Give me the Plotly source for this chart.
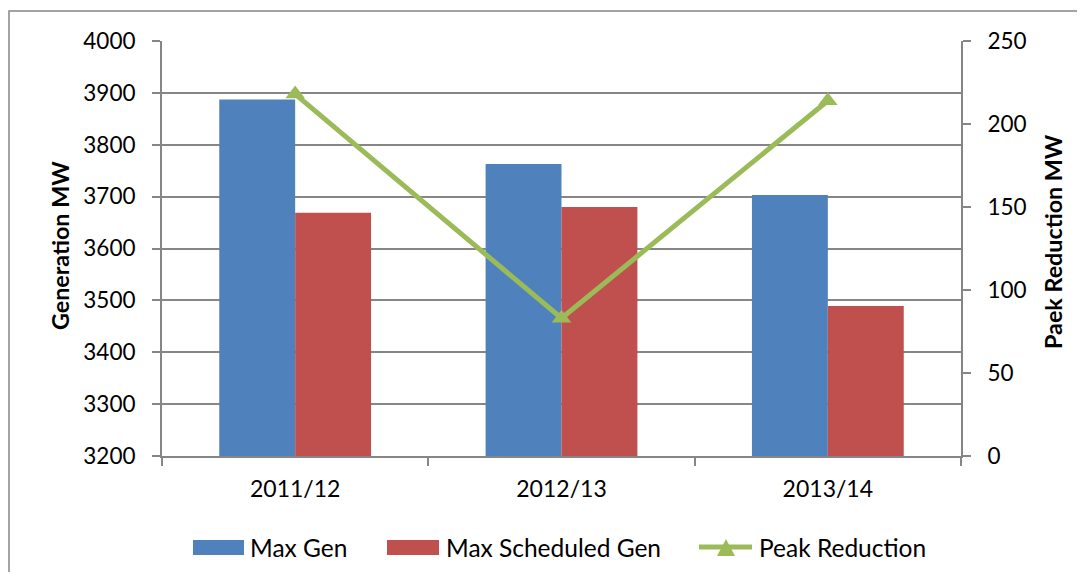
import plotly.graph_objects as go

categories = ["2011/12", "2012/13", "2013/14"]
max_gen = [3887, 3763, 3703]
max_sched_gen = [3669, 3680, 3489]
peak_reduction = [218, 83, 214]
left_ticks = [3200, 3300, 3400, 3500, 3600, 3700, 3800, 3900, 4000]
right_ticks = [0, 50, 100, 150, 200, 250]
series_names = ["Max Gen", "Max Scheduled Gen", "Peak Reduction"]
colors = ["#4F81BD", "#C0504D", "#9BBB59"]

# figure is placed at (8,8) in the page (body margin)
OFF = 8
W, H = 1069, 564
L, T = 162 - OFF, 41 - OFF
pw, ph = 799, 415
R, B = W - L - pw, H - T - ph

FONT = "Lato, Carlito, 'Liberation Sans', sans-serif"
GRID = "#868686"
FS = 22.5
FSX = 23
FSL = 24.5
FST = 23.3

fig = go.Figure()
fig.add_trace(go.Bar(x=categories, y=max_gen, name=series_names[0],
                     marker=dict(color=colors[0], line=dict(width=0)), base=0))
fig.add_trace(go.Bar(x=categories, y=max_sched_gen, name=series_names[1],
                     marker=dict(color=colors[1], line=dict(width=0)), base=0))
fig.add_trace(go.Scatter(x=categories, y=peak_reduction, name=series_names[2],
                         yaxis="y2", mode="lines+markers",
                         line=dict(color=colors[2], width=5),
                         marker=dict(symbol="triangle-up", size=17, color=colors[2])))


def px(x):  # screen x -> paper
    return (x - OFF - L) / pw


def py(y):  # screen y -> paper
    return (T + ph - (y - OFF)) / ph


shapes = [dict(type="rect", xref="paper", yref="paper",
               x0=px(9), x1=px(1120), y0=py(620), y1=py(11),
               line=dict(color=GRID, width=1.5), layer="below")]
annotations = []

# custom legend
leg_y = 547
shapes.append(dict(type="rect", xref="paper", yref="paper", x0=px(193), x1=px(244),
                   y0=py(555), y1=py(540), fillcolor=colors[0], line=dict(width=0)))
shapes.append(dict(type="rect", xref="paper", yref="paper", x0=px(387), x1=px(439),
                   y0=py(555), y1=py(540), fillcolor=colors[1], line=dict(width=0)))
shapes.append(dict(type="line", xref="paper", yref="paper", x0=px(699), x1=px(752),
                   y0=py(leg_y), y1=py(leg_y), line=dict(color=colors[2], width=5)))
shapes.append(dict(type="path", xref="paper", yref="paper",
                   path=f"M {px(717)} {py(556)} L {px(735)} {py(556)} L {px(726)} {py(539)} Z",
                   fillcolor=colors[2], line=dict(width=0)))
for xs, name in zip([248, 444, 757], series_names):
    annotations.append(dict(x=px(xs), y=py(leg_y), xref="paper", yref="paper",
                            text=name, showarrow=False, xanchor="left", yanchor="middle",
                            font=dict(size=FSL, family=FONT, color="black")))

# axis titles
annotations.append(dict(x=px(60), y=py(246), xref="paper", yref="paper",
                        text="<b>Generation MW</b>", textangle=-90, showarrow=False,
                        xanchor="center", yanchor="middle",
                        font=dict(size=FST, family=FONT, color="black")))
annotations.append(dict(x=px(1053), y=py(242), xref="paper", yref="paper",
                        text="<b>Paek Reduction MW</b>", textangle=-90, showarrow=False,
                        xanchor="center", yanchor="middle",
                        font=dict(size=FST, family=FONT, color="black")))

fig.update_layout(
    width=W, height=H,
    margin=dict(l=L, r=R, t=T, b=B, pad=0),
    paper_bgcolor="white", plot_bgcolor="white",
    font=dict(family=FONT, size=FS, color="black"),
    barmode="group", bargap=0.43, bargroupgap=0,
    showlegend=False,
    xaxis=dict(type="category", showline=True, linecolor=GRID, linewidth=2,
               ticks="outside", tickson="boundaries", ticklen=8, tickcolor=GRID,
               tickwidth=2, showgrid=False, tickfont=dict(size=FSX),
               ticklabelstandoff=11),
    yaxis=dict(range=[3200, 4000], tickvals=left_ticks, showline=True,
               linecolor=GRID, linewidth=2, ticks="outside", ticklen=8,
               tickcolor=GRID, tickwidth=2, showgrid=True, gridcolor=GRID,
               gridwidth=1.5, zeroline=False, tickfont=dict(size=FS),
               ticklabelstandoff=12),
    yaxis2=dict(range=[0, 250], tickvals=right_ticks, overlaying="y", side="right",
                showline=True, linecolor=GRID, linewidth=2, ticks="outside",
                ticklen=8, tickcolor=GRID, tickwidth=2, showgrid=False,
                zeroline=False, tickfont=dict(size=FS), ticklabelstandoff=12),
    shapes=shapes,
    annotations=annotations,
)

fig.write_html("out.html")
